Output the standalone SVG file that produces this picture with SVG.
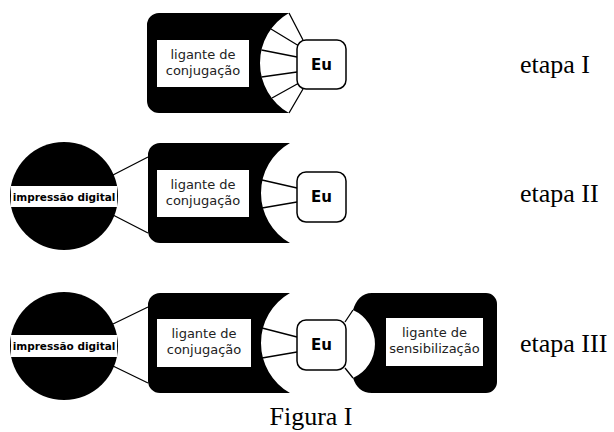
<svg xmlns="http://www.w3.org/2000/svg" width="614" height="432" viewBox="0 0 614 432">
<style>
.blk{fill:#000;stroke:none}
.lbl{fill:#fff;stroke:none}
.eu{fill:#fff;stroke:#000;stroke-width:1.5}
.ln{stroke:#000;stroke-width:1.3;fill:none}
.t{font-family:"DejaVu Sans",sans-serif;font-size:13px;fill:#222;text-anchor:middle}
.tb{font-family:"DejaVu Sans",sans-serif;font-weight:bold;fill:#000;text-anchor:middle}
.st{font-family:"Liberation Serif","Times New Roman",serif;font-size:26px;fill:#000}
</style>
<rect width="614" height="432" fill="#fff"/>
<g id="connectors">
<path class="ln" d="M289,13 L303,40 M271,29 L299,46 M261.5,50 L297,57 M261.5,77 L297,72 M272,98 L299,83 M289,113 L303,89"/>
<path class="ln" d="M262,180 L297,188 M262,208 L297,202"/>
<path class="ln" d="M113,175 L148,157 M113,215 L148,233"/>
<path class="ln" d="M262,328 L297,337 M262,358 L297,352"/>
<path class="ln" d="M113,324 L148,307 M113,366 L148,383"/>
<path class="ln" d="M345,322 L353,310 M345,368 L353,378"/>
</g>
<g id="ligante1">
<path class="blk" d="M159,13 H289 A57.6 57.6 0 0 0 289 113 H159 A12 12 0 0 1 147 101 V25 A12 12 0 0 1 159 13 Z"/>
<rect class="lbl" x="157" y="40" width="92" height="47"/>
<text class="t" x="203" y="59">ligante de</text>
<text class="t" x="203" y="75">conjugação</text>
</g>
<g id="eu1">
<rect class="eu" x="297" y="40" width="49" height="49" rx="9"/>
<text class="tb" x="321.5" y="70" font-size="15">Eu</text>
</g>
<g id="impressao2">
<circle class="blk" cx="64" cy="196" r="54"/>
<rect class="lbl" x="11" y="186" width="106" height="21"/>
<text class="tb" x="64" y="200.5" font-size="10.5">impressão digital</text>
</g>
<g id="ligante2">
<path class="blk" d="M160,143 H290 A57.6 57.6 0 0 0 290 243 H160 A12 12 0 0 1 148 231 V155 A12 12 0 0 1 160 143 Z"/>
<rect class="lbl" x="157" y="170" width="92" height="47"/>
<text class="t" x="203" y="189">ligante de</text>
<text class="t" x="203" y="205">conjugação</text>
</g>
<g id="eu2">
<rect class="eu" x="297" y="172" width="49" height="50" rx="9"/>
<text class="tb" x="321.5" y="202" font-size="15">Eu</text>
</g>
<g id="impressao3">
<circle class="blk" cx="64" cy="346" r="54"/>
<rect class="lbl" x="11" y="335" width="106" height="22"/>
<text class="tb" x="64" y="350" font-size="10.5">impressão digital</text>
</g>
<g id="ligante3">
<path class="blk" d="M160,293 H290 A57.6 57.6 0 0 0 290 393 H160 A12 12 0 0 1 148 381 V305 A12 12 0 0 1 160 293 Z"/>
<rect class="lbl" x="157" y="319" width="94" height="48"/>
<text class="t" x="204" y="338">ligante de</text>
<text class="t" x="204" y="354">conjugação</text>
</g>
<g id="eu3">
<rect class="eu" x="297" y="320" width="49" height="50" rx="9"/>
<text class="tb" x="321.5" y="350" font-size="15">Eu</text>
</g>
<g id="sensibilizacao">
<path class="blk" d="M372,293 H486 A11 11 0 0 1 497 304 V382 A11 11 0 0 1 486 393 H372 C362,393 356,387 353,378 A37.3 37.3 0 0 0 353 310 C356,300 362,293 372,293 Z"/>
<rect class="lbl" x="386" y="318" width="97" height="48"/>
<text class="t" x="434.5" y="337" font-size="12">ligante de</text>
<text class="t" x="434.5" y="353" font-size="12">sensibilização</text>
</g>
<g id="labels">
<text class="st" x="520" y="73">etapa I</text>
<text class="st" x="520" y="202">etapa II</text>
<text class="st" x="520" y="352">etapa III</text>
<text class="st" x="311" y="425" text-anchor="middle">Figura I</text>
</g>
</svg>
